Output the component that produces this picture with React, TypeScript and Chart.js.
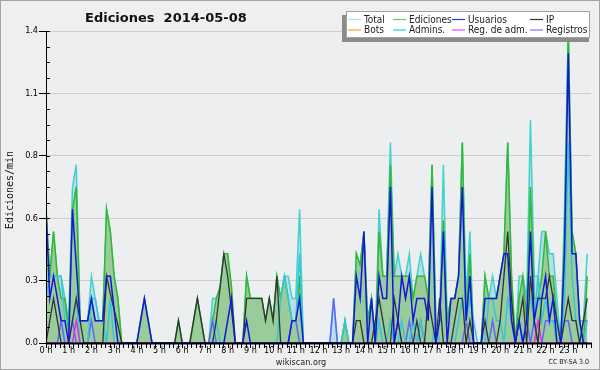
import React, { useEffect, useRef } from 'react';
import { Chart, registerables } from 'chart.js';

Chart.register(...registerables);

const chartTitle = 'Ediciones  2014-05-08';
const yAxisTitle = 'Ediciones/min';
const footerText = 'wikiscan.org';
const licenseText = 'CC BY-SA 3.0';

const hourLabels = ['0 h', '1 h', '2 h', '3 h', '4 h', '5 h', '6 h', '7 h', '8 h', '9 h', '10 h', '11 h',
  '12 h', '13 h', '14 h', '15 h', '16 h', '17 h', '18 h', '19 h', '20 h', '21 h', '22 h', '23 h'];
const yTickValues = [0, 0.28, 0.56, 0.84, 1.12, 1.4];
const yTickLabels = ['0.0', '0.3', '0.6', '0.8', '1.1', '1.4'];
const binsPerHour = 6; // one value every 10 minutes

const seriesNames = ['Total', 'Ediciones', 'Usuarios', 'IP', 'Bots', 'Admins.', 'Reg. de adm.', 'Registros'];

const total = [
  0.6, 0.3, 0.5, 0.3, 0.3, 0.2, 0.1, 0.7, 0.8, 0.1, 0.1, 0.1,
  0.3, 0.2, 0.1, 0.1, 0.6, 0.5, 0.3, 0.2, 0, 0, 0, 0,
  0, 0.1, 0.2, 0.1, 0, 0, 0, 0, 0, 0, 0, 0.1,
  0, 0, 0, 0.1, 0.2, 0.1, 0, 0, 0.2, 0.2, 0.25, 0.4,
  0.4, 0.25, 0, 0, 0, 0.3, 0.2, 0.2, 0.2, 0.2, 0.1, 0.2,
  0.1, 0.3, 0.2, 0.3, 0.3, 0.2, 0.2, 0.6, 0, 0, 0, 0,
  0, 0, 0, 0, 0.2, 0, 0, 0.1, 0, 0, 0.4, 0.35,
  0.5, 0.1, 0.2, 0, 0.6, 0.3, 0.3, 0.9, 0.3, 0.4, 0.3, 0.3,
  0.4, 0.2, 0.3, 0.4, 0.3, 0.2, 0.8, 0.1, 0.1, 0.8, 0.1, 0.2,
  0.2, 0.3, 0.9, 0.2, 0.5, 0, 0, 0, 0.3, 0.2, 0.3, 0.2,
  0.3, 0.4, 0.9, 0.3, 0, 0.3, 0.3, 0.2, 1.0, 0.3, 0.3, 0.5,
  0.5, 0.4, 0.4, 0.2, 0, 0.6, 1.4, 0.5, 0.4, 0.1, 0.1, 0.4,
];

const ediciones = [
  0.6, 0.3, 0.5, 0.3, 0.2, 0.2, 0.05, 0.6, 0.7, 0.1, 0.1, 0.1,
  0.2, 0.1, 0.1, 0.1, 0.6, 0.5, 0.3, 0.2, 0, 0, 0, 0,
  0, 0.1, 0.2, 0.1, 0, 0, 0, 0, 0, 0, 0, 0.1,
  0, 0, 0, 0.1, 0.2, 0.1, 0, 0, 0.1, 0.2, 0.25, 0.4,
  0.4, 0.25, 0, 0, 0, 0.3, 0.2, 0.2, 0.2, 0.2, 0.1, 0.2,
  0.1, 0.3, 0.2, 0.3, 0.2, 0.1, 0.1, 0.3, 0, 0, 0, 0,
  0, 0, 0, 0, 0, 0, 0, 0.1, 0, 0, 0.4, 0.35,
  0.5, 0.1, 0.2, 0, 0.5, 0.3, 0.3, 0.8, 0.3, 0.3, 0.3, 0.3,
  0.3, 0.2, 0.3, 0.3, 0.3, 0.2, 0.8, 0.1, 0.1, 0.55, 0.1, 0.2,
  0.2, 0.3, 0.9, 0.1, 0.4, 0, 0, 0, 0.3, 0.2, 0.2, 0.2,
  0.3, 0.4, 0.9, 0.3, 0, 0.2, 0.3, 0.1, 0.7, 0.2, 0.2, 0.3,
  0.5, 0.3, 0.3, 0.1, 0, 0.5, 1.4, 0.5, 0.4, 0.1, 0, 0.3,
];

const usuarios = [
  0.6, 0.2, 0.3, 0.2, 0.1, 0.1, 0, 0.6, 0.35, 0.1, 0.1, 0.1,
  0.2, 0.1, 0.1, 0.1, 0.3, 0.3, 0.15, 0, 0, 0, 0, 0,
  0, 0.1, 0.2, 0.1, 0, 0, 0, 0, 0, 0, 0, 0,
  0, 0, 0, 0, 0, 0, 0, 0, 0, 0, 0, 0,
  0.1, 0.2, 0, 0, 0, 0.1, 0, 0, 0, 0, 0, 0,
  0, 0, 0, 0, 0, 0.1, 0.1, 0.2, 0, 0, 0, 0,
  0, 0, 0, 0, 0, 0, 0, 0, 0, 0, 0.3, 0.2,
  0.5, 0, 0.2, 0, 0.3, 0.2, 0.2, 0.7, 0, 0.1, 0.3, 0.2,
  0.3, 0.1, 0.2, 0.2, 0.2, 0.1, 0.7, 0, 0.1, 0.5, 0, 0.2,
  0.2, 0.3, 0.7, 0.1, 0.3, 0, 0, 0, 0.2, 0.2, 0.2, 0.2,
  0.3, 0.4, 0.4, 0.1, 0, 0.1, 0, 0.1, 0.5, 0.1, 0.2, 0.2,
  0.3, 0.1, 0.2, 0, 0, 0.4, 1.3, 0.4, 0.4, 0.1, 0, 0,
];

const ip = [
  0, 0.1, 0.2, 0.1, 0, 0, 0, 0.1, 0.2, 0.1, 0, 0,
  0, 0, 0, 0, 0.3, 0.22, 0.15, 0.08, 0, 0, 0, 0,
  0, 0, 0, 0, 0, 0, 0, 0, 0, 0, 0, 0.1,
  0, 0, 0, 0.1, 0.2, 0.1, 0, 0, 0, 0.1, 0.25, 0.4,
  0.3, 0.15, 0, 0, 0, 0.2, 0.2, 0.2, 0.2, 0.2, 0.1, 0.2,
  0.1, 0.3, 0, 0, 0, 0, 0, 0, 0, 0, 0, 0,
  0, 0, 0, 0, 0, 0, 0, 0, 0, 0, 0.1, 0.1,
  0, 0, 0, 0.1, 0.2, 0.1, 0, 0, 0.2, 0.1, 0, 0,
  0, 0, 0.1, 0, 0, 0.2, 0.1, 0, 0.2, 0, 0, 0,
  0.1, 0.2, 0.2, 0, 0.1, 0, 0, 0, 0.1, 0, 0, 0,
  0.1, 0.3, 0.5, 0.2, 0, 0.1, 0.2, 0, 0.3, 0.1, 0, 0.2,
  0.2, 0.3, 0.2, 0.1, 0, 0.1, 0.2, 0.1, 0.1, 0, 0.1, 0.2,
];

const bots = [
  0, 0, 0, 0, 0, 0, 0, 0, 0, 0, 0, 0,
  0, 0, 0, 0, 0, 0, 0, 0, 0, 0, 0, 0,
  0, 0, 0, 0, 0, 0, 0, 0, 0, 0, 0, 0,
  0, 0, 0, 0, 0, 0, 0, 0, 0, 0, 0, 0,
  0, 0, 0, 0, 0, 0, 0, 0, 0, 0, 0, 0,
  0, 0, 0, 0, 0, 0, 0, 0, 0, 0, 0, 0,
  0, 0, 0, 0, 0, 0, 0, 0, 0, 0, 0, 0,
  0, 0, 0, 0, 0, 0, 0, 0, 0, 0, 0, 0,
  0, 0, 0, 0, 0, 0, 0, 0, 0, 0, 0, 0,
  0, 0, 0, 0, 0, 0, 0, 0, 0, 0, 0, 0,
  0, 0, 0, 0, 0, 0, 0, 0, 0, 0, 0, 0,
  0, 0, 0, 0, 0, 0, 0, 0, 0, 0, 0, 0,
];

const admins = [
  0.2, 0.3, 0.3, 0.3, 0.3, 0.1, 0.1, 0.1, 0.2, 0, 0, 0,
  0.2, 0.2, 0.1, 0.1, 0, 0.2, 0, 0, 0, 0, 0, 0,
  0, 0, 0, 0, 0, 0, 0, 0, 0, 0, 0, 0,
  0, 0, 0, 0, 0, 0, 0, 0, 0, 0.1, 0, 0,
  0, 0, 0, 0, 0, 0, 0, 0, 0, 0, 0, 0,
  0, 0, 0.2, 0.3, 0.2, 0.1, 0.1, 0.4, 0, 0, 0, 0,
  0, 0, 0, 0, 0, 0, 0, 0.1, 0, 0, 0, 0,
  0, 0, 0, 0, 0.1, 0, 0, 0.1, 0, 0, 0.1, 0,
  0, 0.1, 0, 0.1, 0, 0, 0, 0.1, 0, 0, 0, 0,
  0, 0.1, 0.2, 0.1, 0.2, 0.1, 0, 0, 0, 0.2, 0.2, 0.1,
  0.1, 0, 0.2, 0.1, 0, 0.1, 0, 0.1, 0.2, 0.1, 0.3, 0.1,
  0.2, 0.1, 0.1, 0, 0, 0.2, 0.9, 0.3, 0.1, 0, 0, 0.1,
];

const regAdm = [
  0, 0, 0, 0, 0, 0, 0, 0, 0.1, 0, 0, 0,
  0, 0, 0, 0, 0, 0, 0, 0, 0, 0, 0, 0,
  0, 0, 0, 0, 0, 0, 0, 0, 0, 0, 0, 0,
  0, 0, 0, 0, 0, 0, 0, 0, 0, 0, 0, 0,
  0, 0, 0, 0, 0, 0, 0, 0, 0, 0, 0, 0,
  0, 0, 0, 0, 0, 0, 0, 0, 0, 0, 0, 0,
  0, 0, 0, 0, 0, 0, 0, 0, 0, 0, 0, 0,
  0, 0, 0, 0, 0, 0, 0, 0, 0, 0, 0, 0,
  0, 0, 0, 0, 0, 0, 0, 0, 0, 0, 0, 0,
  0, 0, 0, 0, 0, 0, 0, 0, 0, 0, 0, 0,
  0, 0, 0, 0, 0, 0, 0, 0, 0, 0, 0.1, 0,
  0, 0, 0, 0, 0, 0, 0, 0, 0, 0, 0, 0,
];

const registros = [
  0, 0, 0, 0, 0.1, 0, 0, 0.1, 0, 0, 0, 0,
  0.1, 0, 0, 0, 0, 0, 0, 0, 0, 0, 0, 0,
  0, 0, 0, 0, 0, 0, 0, 0, 0, 0, 0, 0,
  0, 0, 0, 0, 0, 0, 0, 0, 0.1, 0, 0, 0,
  0, 0, 0, 0, 0, 0, 0, 0, 0, 0, 0, 0,
  0, 0, 0, 0, 0, 0.1, 0.1, 0, 0, 0, 0, 0,
  0, 0, 0, 0, 0.2, 0, 0, 0, 0, 0, 0, 0,
  0, 0, 0, 0, 0, 0, 0, 0, 0, 0.1, 0, 0,
  0.1, 0, 0, 0.1, 0, 0, 0, 0, 0, 0, 0, 0,
  0, 0, 0, 0.1, 0, 0, 0, 0, 0, 0, 0.1, 0,
  0, 0, 0, 0, 0, 0.1, 0, 0.1, 0, 0.1, 0, 0,
  0.1, 0.1, 0.1, 0.1, 0, 0.1, 0.1, 0, 0, 0, 0.1, 0.1,
];

// ---- styles ----
const SANS = '"DejaVu Sans Condensed", "DejaVu Sans", sans-serif';
const lineColors = ['#3fd3cb', '#33b833', '#1515e0', '#333333', '#ff9922', '#36c6dc', '#dd33dd', '#6464ff'];
const legendColors = ['#a8e6e6', '#66cc66', '#3333ee', '#333333', '#ffa030', '#33ccdd', '#ee44ee', '#7777ff'];
const legendRows = [[0, 1, 2, 3], [4, 5, 6, 7]];
const legendColX = [348, 393, 452, 530];

const seriesData = [total, ediciones, usuarios, ip, bots, admins, regAdm, registros];
const drawOrder = [8, 7, 1, 2, 6, 4, 3, 5];

const decorPlugin = {
  id: 'decor',
  beforeDraw(chart: any) {
    const { ctx, chartArea: a, width, height } = chart;
    ctx.save();
    ctx.fillStyle = '#efefef';
    ctx.fillRect(0, 0, width, height);
    ctx.fillStyle = '#edeef0';
    ctx.fillRect(a.left, a.top, a.right - a.left, a.bottom - a.top);
    ctx.strokeStyle = '#a4a4a4';
    ctx.lineWidth = 1;
    ctx.strokeRect(0.5, 0.5, width - 1, height - 1);
    ctx.restore();
  },
  afterDatasetsDraw(chart: any) {
    const { ctx, chartArea: a, scales } = chart;
    const xs = scales.x;
    const ys = scales.y;
    ctx.save();
    ctx.fillStyle = '#000';
    // x axis line (thick) covering zero-valued lines
    ctx.fillRect(a.left, a.bottom - 0.5, a.right - a.left + 1, 2);
    // y axis line
    ctx.fillRect(a.left, a.top, 1, a.bottom - a.top);
    // x ticks every 12 minutes
    for (let m = 0; m <= 24 * 5; m++) {
      const px = Math.round(xs.getPixelForValue(m / 5));
      ctx.fillRect(px, a.bottom + 1, 1, 4);
    }
    // y minor ticks inward
    for (let k = 0; k <= 20; k++) {
      const py = Math.round(ys.getPixelForValue(k * 0.07));
      ctx.fillRect(a.left + 1, py, 3, 1);
    }
    ctx.restore();
  },
  afterDraw(chart: any) {
    const { ctx, chartArea: a } = chart;
    ctx.save();
    // title
    ctx.fillStyle = '#111';
    ctx.font = 'bold 13px "DejaVu Sans", sans-serif';
    ctx.textBaseline = 'alphabetic';
    ctx.textAlign = 'left';
    ctx.fillText(chartTitle, 85, 22);
    // y axis title
    ctx.save();
    ctx.translate(13, (a.top + a.bottom) / 2 + 3);
    ctx.rotate(-Math.PI / 2);
    ctx.font = '10px "DejaVu Sans Mono", monospace';
    ctx.textAlign = 'center';
    ctx.textBaseline = 'alphabetic';
    ctx.fillStyle = '#111';
    ctx.fillText(yAxisTitle, 0, 0);
    ctx.restore();
    // footer
    ctx.font = '9px ' + SANS;
    ctx.textAlign = 'center';
    ctx.fillStyle = '#222';
    ctx.fillText(footerText, 301, 365);
    ctx.font = '7px ' + SANS;
    ctx.textAlign = 'right';
    ctx.fillText(licenseText, 589, 364);
    // legend box with shadow
    ctx.fillStyle = '#8c8c8c';
    ctx.fillRect(342, 15, 247, 27);
    ctx.fillStyle = '#ffffff';
    ctx.fillRect(346, 11, 244, 27);
    ctx.strokeStyle = '#a0a0a0';
    ctx.lineWidth = 1;
    ctx.strokeRect(346.5, 11.5, 243, 26);
    ctx.font = '10px ' + SANS;
    ctx.textAlign = 'left';
    ctx.textBaseline = 'middle';
    legendRows.forEach((row, r) => {
      const yy = r === 0 ? 19.5 : 30;
      row.forEach((si, c) => {
        const x0 = legendColX[c];
        ctx.strokeStyle = legendColors[si];
        ctx.lineWidth = 1.2;
        ctx.beginPath();
        ctx.moveTo(x0, yy);
        ctx.lineTo(x0 + 13, yy);
        ctx.stroke();
        ctx.fillStyle = '#222';
        ctx.fillText(seriesNames[si], x0 + 16, yy + 0.5);
      });
    });
    ctx.restore();
  },
};

export default function App() {
  const ref = useRef<HTMLCanvasElement | null>(null);

  useEffect(() => {
    if (!ref.current) return;
    const datasets = seriesData.map((vals, si) => {
      const base: any = {
        label: seriesNames[si],
        data: vals.map((v, i) => ({ x: i / binsPerHour, y: v })),
        borderColor: lineColors[si],
        borderWidth: si === 3 ? 1.3 : 1.5,
        pointRadius: 0,
        tension: 0,
        fill: false,
        order: drawOrder[si],
      };
      if (si === 0) {
        base.fill = 'origin';
        base.backgroundColor = '#bddcea';
      }
      if (si === 1) {
        base.fill = 'origin';
        base.backgroundColor = '#99cc99';
      }
      return base;
    });

    const chart = new Chart(ref.current, {
      type: 'line',
      data: { datasets },
      plugins: [decorPlugin],
      options: {
        animation: false,
        responsive: false,
        devicePixelRatio: 1,
        layout: { padding: { top: 31, right: 9, left: 0, bottom: 0 } },
        plugins: {
          legend: { display: false },
          title: { display: false },
          tooltip: { enabled: false },
        },
        scales: {
          x: {
            type: 'linear',
            min: 0,
            max: 24,
            afterBuildTicks: (scale: any) => {
              scale.ticks = hourLabels.map((_, h) => ({ value: h }));
            },
            afterFit: (scale: any) => {
              scale.height = 27;
            },
            ticks: {
              autoSkip: false,
              maxRotation: 0,
              padding: 0,
              color: '#000',
              font: { family: SANS, size: 9 },
              callback: (v: any) => hourLabels[Math.round(Number(v))] ?? '',
            },
            grid: { drawOnChartArea: false, drawTicks: true, tickLength: 2, tickColor: 'rgba(0,0,0,0)' },
            border: { display: false },
          },
          y: {
            type: 'linear',
            min: 0,
            max: 1.4,
            afterBuildTicks: (scale: any) => {
              scale.ticks = yTickValues.map((v) => ({ value: v }));
            },
            afterFit: (scale: any) => {
              scale.width = 46;
            },
            ticks: {
              padding: 1,
              color: '#000',
              font: { family: SANS, size: 9 },
              callback: (_v: any, idx: number) => yTickLabels[idx],
            },
            grid: { color: '#cccccc', tickColor: '#000', tickLength: 7, lineWidth: 1 },
            border: { display: false },
          },
        },
      },
    });
    return () => chart.destroy();
  }, []);

  return (
    <div style={{ position: 'absolute', left: 0, top: 0, width: 600, height: 370 }}>
      <canvas ref={ref} width={600} height={370} style={{ width: 600, height: 370 }} />
    </div>
  );
}
